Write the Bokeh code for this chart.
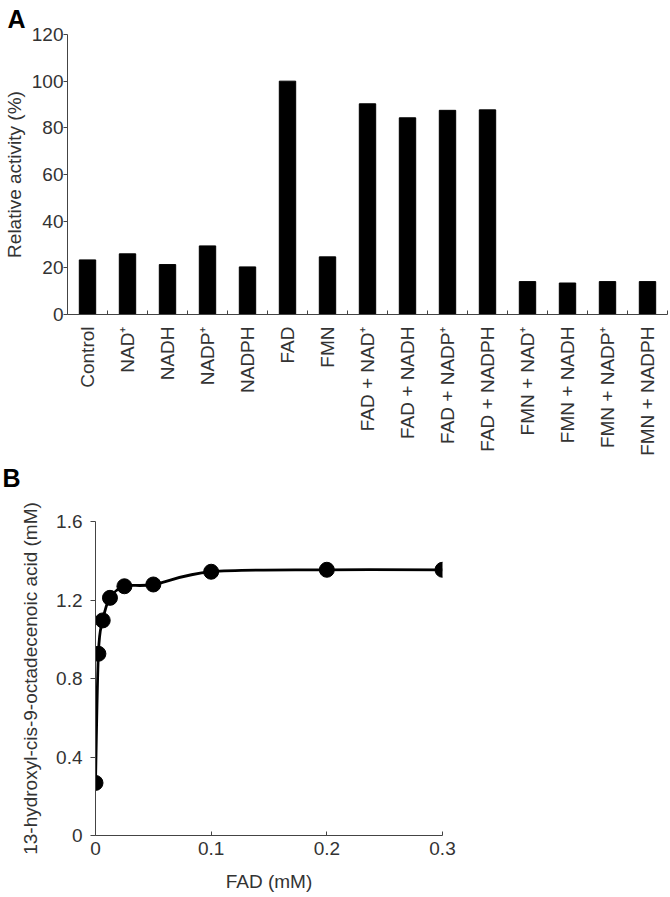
import math
from bokeh.plotting import figure
from bokeh.models import Range1d, FixedTicker
from bokeh.embed import file_html
from bokeh.resources import INLINE

# ---------------- Panel A data ----------------
categories = ["Control", "NAD\u207a", "NADH", "NADP\u207a", "NADPH", "FAD", "FMN",
              "FAD + NAD\u207a", "FAD + NADH", "FAD + NADP\u207a", "FAD + NADPH",
              "FMN + NAD\u207a", "FMN + NADH", "FMN + NADP\u207a", "FMN + NADPH"]
activity = [23.4, 26.0, 21.4, 29.4, 20.4, 100.0, 24.7, 90.3, 84.3, 87.5, 87.7,
            14.1, 13.5, 14.1, 14.1]
a_yticks = [0, 20, 40, 60, 80, 100, 120]

# ---------------- Panel B data ----------------
fad_mM = [0.0, 0.0025, 0.00625, 0.0125, 0.025, 0.05, 0.1, 0.2, 0.3]
product_mM = [0.268, 0.926, 1.096, 1.211, 1.270, 1.279, 1.344, 1.354, 1.354]
b_xticks = [0, 0.1, 0.2, 0.3]
b_yticks = [0, 0.4, 0.8, 1.2, 1.6]

FONT = "Liberation Sans"
TXT = "#333333"
AX = "#444444"
FS = "19px"
W = 670


def style_axis(ax):
    ax.axis_line_color = AX
    ax.axis_line_width = 1
    ax.major_tick_line_color = AX
    ax.minor_tick_line_color = AX
    ax.major_label_text_font = FONT
    ax.major_label_text_font_size = FS
    ax.major_label_text_color = TXT
    ax.axis_label_text_font = FONT
    ax.axis_label_text_font_size = FS
    ax.axis_label_text_font_style = "normal"
    ax.axis_label_text_color = TXT


def style_title(p, text, offset, standoff):
    p.title.text = text
    p.title.align = "left"
    p.title.offset = offset
    p.title.standoff = standoff
    p.title.vertical_align = "top"
    p.title.text_font = FONT
    p.title.text_font_size = "25px"
    p.title.text_font_style = "bold"
    p.title.text_color = "black"
    p.title.text_line_height = 1.0


# ================= Panel A =================
A_H, A_TOP, A_LEFT, A_RIGHT, A_BOTTOM = 463, 34, 62, 3, 149
n = len(categories)
xpos = list(range(1, n + 1))

pA = figure(width=W, height=A_H, output_backend="svg", toolbar_location=None,
            x_range=Range1d(0.5, n + 0.5), y_range=Range1d(0, 120),
            min_border_top=A_TOP, min_border_left=A_LEFT,
            min_border_right=A_RIGHT, min_border_bottom=A_BOTTOM)
pA.outline_line_color = None
pA.grid.visible = False
pA.background_fill_color = "white"
pA.border_fill_color = "white"
style_title(pA, "A", -60, 0)

pA.vbar(x=xpos, top=activity, width=0.41, fill_color="black", line_color="black")

xa = pA.xaxis[0]
xa.ticker = FixedTicker(ticks=xpos, minor_ticks=[i + 0.5 for i in range(0, n + 1)])
xa.major_label_overrides = {i: c for i, c in zip(xpos, categories)}
xa.major_label_orientation = math.pi / 2
xa.major_tick_in = 0
xa.major_tick_out = 0
xa.minor_tick_in = 4
xa.minor_tick_out = 0
xa.major_label_standoff = 12
style_axis(xa)

ya = pA.yaxis[0]
ya.ticker = FixedTicker(ticks=a_yticks)
ya.major_tick_in = 0
ya.major_tick_out = 4
ya.minor_tick_in = 0
ya.minor_tick_out = 0
ya.major_label_standoff = 0
ya.axis_label = "Relative activity (%)"
ya.axis_label_standoff = 4
style_axis(ya)

# ================= Panel B =================
B_H, B_TOP, B_LEFT, B_RIGHT, B_BOTTOM = 434, 58, 95, 228, 62
pB = figure(width=W, height=B_H, output_backend="svg", toolbar_location=None,
            x_range=Range1d(0, 0.3), y_range=Range1d(0, 1.6),
            min_border_top=B_TOP, min_border_left=B_LEFT,
            min_border_right=B_RIGHT, min_border_bottom=B_BOTTOM)
pB.outline_line_color = None
pB.grid.visible = False
pB.background_fill_color = "white"
pB.border_fill_color = "white"
# second (blank) line lifts the panel letter towards the top of the border area
style_title(pB, "B\n ", -93, 0)

# smooth (Excel-like) curve through the measured points, drawn as cubic Beziers
m = len(fad_mM)
x0, y0, x1, y1, cx0, cy0, cx1, cy1 = [], [], [], [], [], [], [], []
for i in range(m - 1):
    xp, yp = (fad_mM[i - 1], product_mM[i - 1]) if i > 0 else (fad_mM[i], product_mM[i])
    xn, yn = (fad_mM[i + 2], product_mM[i + 2]) if i + 2 < m else (fad_mM[i + 1], product_mM[i + 1])
    x0.append(fad_mM[i]); y0.append(product_mM[i])
    x1.append(fad_mM[i + 1]); y1.append(product_mM[i + 1])
    cx0.append(fad_mM[i] + (fad_mM[i + 1] - xp) / 6.0)
    cy0.append(product_mM[i] + (product_mM[i + 1] - yp) / 6.0)
    cx1.append(fad_mM[i + 1] - (xn - fad_mM[i]) / 6.0)
    cy1.append(product_mM[i + 1] - (yn - product_mM[i]) / 6.0)
pB.bezier(x0=x0, y0=y0, x1=x1, y1=y1, cx0=cx0, cy0=cy0, cx1=cx1, cy1=cy1,
          line_color="black", line_width=2.8)
pB.scatter(fad_mM, product_mM, size=15, fill_color="black", line_color="black")

xb = pB.xaxis[0]
xb.ticker = FixedTicker(ticks=b_xticks)
xb.major_label_overrides = {0: "0"}
xb.major_tick_in = 4
xb.major_tick_out = 0
xb.minor_tick_in = 0
xb.minor_tick_out = 0
xb.major_label_standoff = 6
xb.axis_label = "FAD (mM)"
xb.axis_label_standoff = 13
style_axis(xb)

yb = pB.yaxis[0]
yb.ticker = FixedTicker(ticks=b_yticks)
yb.major_label_overrides = {0: "0"}
yb.major_tick_in = 0
yb.major_tick_out = 5
yb.minor_tick_in = 0
yb.minor_tick_out = 0
yb.major_label_standoff = 8
yb.axis_label = "13-hydroxyl-cis-9-octadecenoic acid (mM)"
yb.axis_label_standoff = 12
style_axis(yb)

open("out.html", "w").write(file_html([pA, pB], INLINE))
